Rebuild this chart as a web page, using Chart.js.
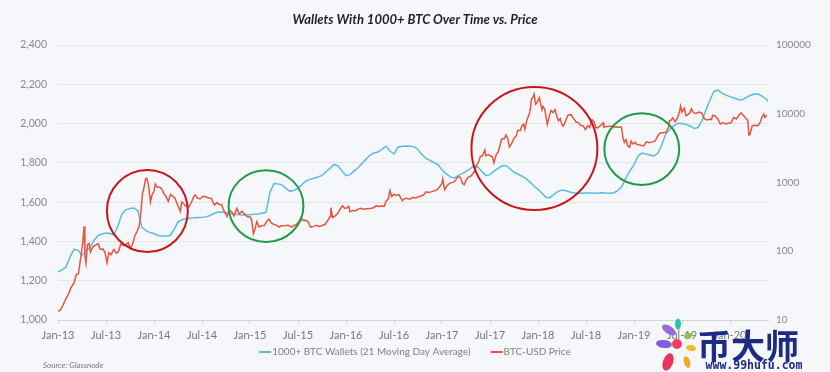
<!DOCTYPE html>
<html><head><meta charset="utf-8">
<script src="https://cdn.jsdelivr.net/npm/chart.js@4.4.1/dist/chart.umd.min.js"></script>
<style>html,body{margin:0;padding:0;background:#f6f7fb;}#wrap{width:830px;height:372px;position:relative}</style>
</head><body><div id="wrap"><canvas id="c" width="830" height="372"></canvas></div>
<script>
const tickLabels = ['Jan-13','Jul-13','Jan-14','Jul-14','Jan-15','Jul-15','Jan-16','Jul-16','Jan-17','Jul-17','Jan-18','Jul-18','Jan-19','Jul-19','Jan-20'];
const rightTicks = [10,100,1000,10000,100000];

// 1000+ BTC wallets, sampled every half month from 2013-01-01
const wallets = [
1245,1255,1270,1320,1360,1355,1330,1350,1370,1405,1430,1438,1443,1440,1433,1480,
1540,1562,1568,1570,1555,1470,1455,1445,1440,1430,1428,1428,1430,1460,1500,1510,
1515,1519,1520,1522,1523,1525,1532,1542,1550,1548,1546,1543,1540,1537,1535,1534,
1536,1538,1540,1544,1548,1650,1695,1693,1688,1670,1655,1660,1670,1690,1708,1716,
1722,1728,1736,1755,1772,1792,1785,1758,1735,1740,1758,1775,1796,1818,1840,1850,
1855,1870,1885,1860,1845,1880,1884,1886,1884,1882,1868,1842,1823,1812,1802,1790,
1765,1745,1730,1722,1735,1745,1755,1770,1785,1778,1755,1735,1740,1758,1772,1785,
1787,1770,1752,1742,1732,1720,1702,1682,1665,1645,1625,1623,1640,1655,1662,1658,
1652,1647,1646,1645,1647,1646,1645,1646,1648,1646,1645,1648,1660,1680,1725,1760,
1790,1835,1850,1845,1840,1835,1850,1895,1950,1970,1990,2002,2000,1996,1988,1975,
1980,2015,2070,2120,2165,2170,2155,2145,2137,2130,2123,2120,2132,2143,2150,2150,
2140,2125,2106];

const priceDates = [
'2013-01-01','2013-01-10','2013-01-20','2013-02-01','2013-02-10','2013-02-20','2013-03-01','2013-03-10','2013-03-18','2013-03-28',
'2013-04-04','2013-04-09','2013-04-12','2013-04-16','2013-04-22','2013-04-28','2013-05-03','2013-05-12','2013-05-20','2013-06-01',
'2013-06-10','2013-06-20','2013-06-28','2013-07-05','2013-07-12','2013-07-20','2013-07-31','2013-08-10','2013-08-18','2013-08-27',
'2013-09-05','2013-09-15','2013-09-25','2013-10-02','2013-10-10','2013-10-20','2013-10-28','2013-11-05','2013-11-10','2013-11-18',
'2013-11-22','2013-11-30','2013-12-04','2013-12-10','2013-12-18','2013-12-24','2013-12-31',
'2014-01-06','2014-01-12','2014-01-20','2014-01-30','2014-02-08','2014-02-15','2014-02-25','2014-03-03','2014-03-12','2014-03-20',
'2014-03-31','2014-04-10','2014-04-15','2014-04-23','2014-05-01','2014-05-12','2014-05-22','2014-05-31','2014-06-05','2014-06-15',
'2014-06-25','2014-07-05','2014-07-15','2014-07-25','2014-08-05','2014-08-18','2014-08-28','2014-09-08','2014-09-15','2014-09-22',
'2014-10-05','2014-10-12','2014-10-22','2014-11-01','2014-11-12','2014-11-20','2014-12-01','2014-12-10','2014-12-20','2014-12-31',
'2015-01-07','2015-01-14','2015-01-20','2015-01-27','2015-02-05','2015-02-15','2015-02-25','2015-03-05','2015-03-12','2015-03-20',
'2015-03-31','2015-04-10','2015-04-20','2015-05-01','2015-05-15','2015-05-25','2015-06-05','2015-06-15','2015-06-25','2015-07-05',
'2015-07-12','2015-07-20','2015-08-01','2015-08-10','2015-08-18','2015-08-30','2015-09-10','2015-09-20','2015-10-01','2015-10-12',
'2015-10-22','2015-11-01','2015-11-04','2015-11-11','2015-11-20','2015-12-01','2015-12-10','2015-12-18','2015-12-27',
'2016-01-05','2016-01-12','2016-01-16','2016-01-25','2016-02-05','2016-02-15','2016-02-25','2016-03-05','2016-03-15','2016-03-25',
'2016-04-05','2016-04-15','2016-04-25','2016-05-05','2016-05-15','2016-05-25','2016-06-01','2016-06-10','2016-06-16','2016-06-23',
'2016-07-01','2016-07-10','2016-07-20','2016-08-02','2016-08-12','2016-08-22','2016-09-01','2016-09-12','2016-09-22','2016-10-01',
'2016-10-12','2016-10-22','2016-11-01','2016-11-10','2016-11-20','2016-12-01','2016-12-12','2016-12-22','2016-12-31',
'2017-01-04','2017-01-11','2017-01-20','2017-02-01','2017-02-10','2017-02-20','2017-03-01','2017-03-10','2017-03-18','2017-03-25',
'2017-04-01','2017-04-10','2017-04-20','2017-05-01','2017-05-10','2017-05-20','2017-05-25','2017-06-01','2017-06-12','2017-06-15',
'2017-06-25','2017-07-01','2017-07-10','2017-07-16','2017-07-25','2017-08-01','2017-08-08','2017-08-15','2017-08-25','2017-09-01',
'2017-09-08','2017-09-14','2017-09-22','2017-10-01','2017-10-10','2017-10-15','2017-10-25','2017-11-01','2017-11-07','2017-11-12',
'2017-11-20','2017-11-28','2017-12-01','2017-12-07','2017-12-12','2017-12-17','2017-12-22','2017-12-28',
'2018-01-06','2018-01-10','2018-01-16','2018-01-20','2018-01-27','2018-02-01','2018-02-06','2018-02-12','2018-02-20','2018-02-28',
'2018-03-05','2018-03-12','2018-03-18','2018-03-25','2018-04-01','2018-04-06','2018-04-15','2018-04-24','2018-05-05','2018-05-15',
'2018-05-25','2018-06-01','2018-06-10','2018-06-20','2018-06-29','2018-07-08','2018-07-15','2018-07-24','2018-08-01','2018-08-08',
'2018-08-14','2018-08-25','2018-09-05','2018-09-08','2018-09-20','2018-10-01','2018-10-10','2018-10-15','2018-10-25','2018-11-01',
'2018-11-10','2018-11-14','2018-11-20','2018-11-25','2018-12-01','2018-12-08','2018-12-15','2018-12-20','2018-12-27',
'2019-01-05','2019-01-10','2019-01-20','2019-01-31','2019-02-07','2019-02-18','2019-02-28','2019-03-10','2019-03-20','2019-04-02',
'2019-04-10','2019-04-20','2019-05-01','2019-05-10','2019-05-14','2019-05-20','2019-05-26','2019-06-05','2019-06-15','2019-06-22',
'2019-06-26','2019-07-01','2019-07-10','2019-07-16','2019-07-25','2019-08-01','2019-08-06','2019-08-15','2019-08-25','2019-09-05',
'2019-09-15','2019-09-25','2019-10-05','2019-10-15','2019-10-22','2019-10-26','2019-11-05','2019-11-15','2019-11-25','2019-12-05',
'2019-12-15','2019-12-25',
'2020-01-05','2020-01-15','2020-01-25','2020-02-05','2020-02-13','2020-02-20','2020-03-01','2020-03-08','2020-03-12','2020-03-16',
'2020-03-25','2020-04-05','2020-04-15','2020-04-25','2020-04-30','2020-05-08','2020-05-12','2020-05-20'];

const priceValues = [
13.3,14.0,16.5,20.4,23.6,29.5,34.5,46,47,89,
135,230,90,68,125,130,97,116,122,129,
106,108,95,68,95,89,106,94,99,128,
122,125,133,110,125,170,195,228,300,700,
780,1130,1150,950,520,660,740,
950,860,860,810,690,640,530,670,630,590,
460,380,520,490,450,440,520,630,660,590,
580,630,620,595,590,470,510,475,475,400,
320,390,380,325,420,350,380,350,320,315,
290,180,210,270,225,235,238,275,295,260,
245,240,225,235,237,239,225,237,243,270,
310,280,282,265,225,230,238,230,237,245,
275,320,430,310,325,360,415,460,420,
430,450,375,392,385,405,423,410,415,415,
422,430,460,447,455,450,535,580,765,625,
675,650,665,540,585,585,573,608,595,615,
637,657,730,715,730,755,780,860,960,
1130,780,895,985,995,1050,1220,1190,970,930,
1080,1200,1240,1420,1740,2050,2400,2400,2950,2450,
2550,2450,2370,1930,2560,2720,3400,4300,4350,4900,
4300,3300,3650,4400,4800,5700,5700,6700,7100,5950,
8200,9800,10900,16500,17300,19300,13800,14500,
17100,14600,11400,12800,11500,9100,7000,8800,11200,10400,
11500,9100,7900,8500,6900,6600,8000,9600,9700,8500,
7500,7500,6800,6700,5900,6700,6300,8200,7600,6300,
6200,6700,7400,6400,6500,6600,6600,6400,6450,6350,
6400,6350,4500,3800,4200,3400,3250,4000,3650,
3850,3600,3550,3450,3400,3900,3800,3900,4000,4900,
5300,5300,5400,6300,7900,8000,8700,7700,8800,10700,
12900,10600,12100,9400,9800,10400,11800,10300,10100,10600,
10300,8500,8100,8300,8200,9500,9300,8500,7100,7400,
7100,7250,
7400,8800,8400,9600,10300,9600,8500,8000,4900,5000,
6700,6800,6650,7550,8700,9900,8800,9500];

function toMonths(s){const p=s.split('-').map(Number);return (p[0]-2013)*12+(p[1]-1)+(p[2]-1)/30.44;}

// annotation ellipses (data units: x in months since Jan-13, y on left axis)
const highlights = [
  {x:11.17,y:1555,rx:5.06,ry:209,color:'#c8161d'},
  {x:26.0,y:1580,rx:4.68,ry:183,color:'#1e9b45'},
  {x:59.55,y:1873,rx:7.87,ry:313,color:'#c8161d'},
  {x:72.97,y:1870,rx:4.68,ry:183,color:'#1e9b45'}
];

const BLUE='#5bbcdd', RED='#e8553e';

const deco = {
  id:'deco',
  afterDatasetsDraw(chart){
    const ctx=chart.ctx, sx=chart.scales.x, sy=chart.scales.y;
    ctx.save();
    ctx.lineWidth=2;
    highlights.forEach(h=>{
      const cx=sx.getPixelForValue(h.x), cy=sy.getPixelForValue(h.y);
      const rx=Math.abs(sx.getPixelForValue(h.x+h.rx)-cx), ry=Math.abs(sy.getPixelForValue(h.y+h.ry)-cy);
      ctx.strokeStyle=h.color;ctx.beginPath();ctx.ellipse(cx,cy,rx,ry,0,0,Math.PI*2);ctx.stroke();
    });
    ctx.restore();
  },
  afterDraw(chart){
    const ctx=chart.ctx;
    ctx.save();
    // title
    ctx.fillStyle='#1f1f24';ctx.font='italic bold 13px Lato';ctx.textAlign='center';ctx.textBaseline='middle';
    ctx.fillText('Wallets With 1000+ BTC Over Time vs. Price',415,20);
    // legend
    const items=[{t:'1000+ BTC Wallets (21 Moving Day Average)',c:BLUE},{t:'BTC-USD Price',c:RED}];
    ctx.font='10px Lato';ctx.textAlign='left';
    const lineW=12, gap=1, sep=20;
    let total=0; items.forEach((it,i)=>{total+=lineW+gap+ctx.measureText(it.t).width+(i?0:sep);});
    let x=415-total/2; const ly=352;
    items.forEach(it=>{
      ctx.strokeStyle=it.c;ctx.lineWidth=2;ctx.beginPath();ctx.moveTo(x,ly);ctx.lineTo(x+lineW,ly);ctx.stroke();
      x+=lineW+gap;ctx.fillStyle='#808080';ctx.fillText(it.t,x,ly);x+=ctx.measureText(it.t).width+sep;
    });
    // source
    ctx.font='italic 8px Lato';ctx.fillStyle='#777';ctx.fillText('Source: Glassnode',43,365);
    // watermark logo
    const petal=(x,y,rx,ry,rot,c)=>{ctx.fillStyle=c;ctx.beginPath();ctx.ellipse(x,y,rx,ry,rot,0,Math.PI*2);ctx.fill();};
    petal(664,344,8,4,0.1,'#7e5fdc');
    petal(669,330,8,4,0.6,'#9a6be0');
    petal(678,324,3,5.5,0,'#2cc5a0');
    petal(688,336,4,3,-0.4,'#8cc63f');
    petal(691,348,5,3,0.2,'#f7b731');
    petal(687,362,3,6,-0.3,'#f5a623');
    petal(668,362,5,9,0.35,'#e8345f');
    petal(677,344,5,5,0,'#ef3e6b');
    ctx.fillStyle='#1e2b84';ctx.textAlign='left';ctx.textBaseline='middle';
    ctx.font='bold 34px "Noto Sans CJK SC"';ctx.fillText('币大师',697,346);
    ctx.font='bold 11.5px "DejaVu Sans Mono"';ctx.textAlign='center';ctx.fillText('www.99hufu.com',754,366);
    ctx.restore();
  }
};

new Chart(document.getElementById('c'),{
  type:'line',
  data:{datasets:[
    {label:'1000+ BTC Wallets (21 Moving Day Average)',data:wallets.map((v,i)=>({x:i*0.5,y:v})),yAxisID:'y',borderColor:BLUE,borderWidth:1.5,pointRadius:0,order:1,tension:0},
    {label:'BTC-USD Price',data:priceValues.map((v,i)=>({x:toMonths(priceDates[i]),y:v})),yAxisID:'y1',borderColor:RED,borderWidth:1.5,pointRadius:0,order:0,tension:0}
  ]},
  options:{
    responsive:false,animation:false,devicePixelRatio:1,
    layout:{padding:{top:45,bottom:0,left:0,right:0}},
    plugins:{legend:{display:false},title:{display:false},tooltip:{enabled:false}},
    scales:{
      x:{type:'linear',min:0,max:88.75,
        afterBuildTicks:s=>{s.ticks=tickLabels.map((_,i)=>({value:i*6}));},
        ticks:{callback:v=>tickLabels[Math.round(v/6)],autoSkip:false,maxRotation:0,color:'#777',font:{family:'Lato',size:11},padding:5},
        grid:{drawOnChartArea:false,drawTicks:true,tickLength:4,color:'#d5d6dc'},
        border:{display:true,color:'#d5d6dc'},
        afterFit:s=>{s.height=52;}},
      y:{position:'left',min:1000,max:2400,
        ticks:{stepSize:200,color:'#888',font:{family:'Lato',size:10.5},padding:11},
        grid:{color:'#e4e5ea',drawTicks:false},border:{display:false},
        afterFit:s=>{s.width=58;}},
      y1:{type:'logarithmic',position:'right',min:10,max:100000,
        afterBuildTicks:s=>{s.ticks=rightTicks.map(v=>({value:v}));},
        ticks:{callback:v=>String(v),color:'#888',font:{family:'Lato',size:10},padding:8},
        grid:{display:false,drawTicks:false},border:{display:false},
        afterFit:s=>{s.width=62;}}
    }
  },
  plugins:[deco]
});
</script></body></html>
